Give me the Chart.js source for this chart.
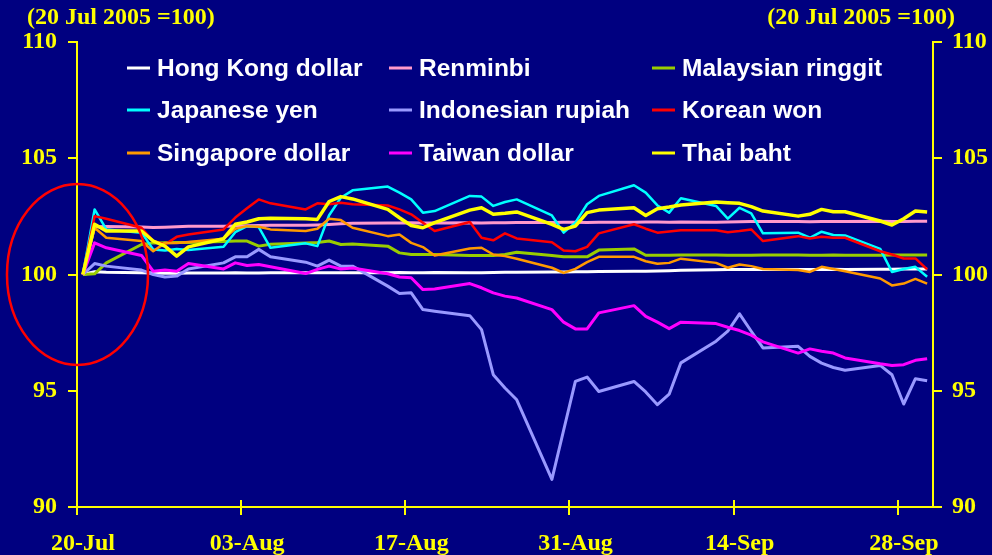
<!DOCTYPE html>
<html><head><meta charset="utf-8">
<script src="https://cdn.jsdelivr.net/npm/chart.js@4/dist/chart.umd.min.js"></script>
<style>html,body{margin:0;padding:0;background:#000080;overflow:hidden}</style>
</head><body>
<canvas id="c" width="992" height="555"></canvas>
<script>
const unitLabel = '(20 Jul 2005 =100)';
const dates = ['2005-07-20','2005-07-21','2005-07-22','2005-07-25','2005-07-26','2005-07-27','2005-07-28','2005-07-29',
'2005-08-01','2005-08-02','2005-08-03','2005-08-04','2005-08-05','2005-08-08','2005-08-09','2005-08-10','2005-08-11','2005-08-12','2005-08-15','2005-08-16','2005-08-17','2005-08-18','2005-08-19','2005-08-22','2005-08-23','2005-08-24','2005-08-25','2005-08-26','2005-08-29','2005-08-30','2005-08-31',
'2005-09-01','2005-09-02','2005-09-05','2005-09-06','2005-09-07','2005-09-08','2005-09-09','2005-09-12','2005-09-13','2005-09-14','2005-09-15','2005-09-16','2005-09-19','2005-09-20','2005-09-21','2005-09-22','2005-09-23','2005-09-26','2005-09-27','2005-09-28','2005-09-29','2005-09-30'];
const xTickDates = ['2005-07-20','2005-08-03','2005-08-17','2005-08-31','2005-09-14','2005-09-28'];
const xTickLabels = ['20-Jul','03-Aug','17-Aug','31-Aug','14-Sep','28-Sep'];
const yTicks = [90, 95, 100, 105, 110];

const seriesNames = ['Hong Kong dollar','Renminbi','Malaysian ringgit','Japanese yen','Indonesian rupiah','Korean won','Singapore dollar','Taiwan dollar','Thai baht'];
const seriesColors = ['#FFFFFF','#FF99CC','#99CC00','#00FFFF','#9999FF','#FF0000','#FF9900','#FF00FF','#FFFF00'];

const hkd = [100,100.12,100.10,100.08,100.06,100.05,100.05,100.06,
100.06,100.07,100.06,100.06,100.07,100.08,100.07,100.07,100.08,100.08,100.08,100.09,100.08,100.08,100.09,100.08,100.08,100.09,100.10,100.10,100.11,100.11,100.12,
100.12,100.13,100.14,100.14,100.15,100.16,100.18,100.20,100.21,100.22,100.22,100.22,100.21,100.22,100.22,100.23,100.22,100.23,100.23,100.24,100.24,100.24];
const rmb = [100,102.05,102.06,102.04,102.02,102.03,102.05,102.07,
102.08,102.09,102.10,102.11,102.12,102.12,102.13,102.15,102.18,102.20,102.22,102.22,102.23,102.22,102.22,102.23,102.22,102.23,102.23,102.24,102.24,102.25,102.25,
102.24,102.25,102.25,102.26,102.26,102.25,102.26,102.25,102.26,102.27,102.28,102.28,102.28,102.27,102.28,102.28,102.28,102.29,102.28,102.28,102.29,102.29];
const myr = [100,100.03,100.50,101.29,101.36,101.37,101.38,101.38,
101.42,101.44,101.44,101.22,101.30,101.36,101.38,101.44,101.29,101.31,101.22,100.93,100.86,100.86,100.86,100.82,100.82,100.82,100.86,100.96,100.82,100.76,100.76,
100.76,101.05,101.10,100.83,100.83,100.83,100.84,100.84,100.83,100.83,100.83,100.84,100.84,100.83,100.83,100.84,100.83,100.83,100.84,100.84,100.84,100.84];
const jpy = [100,102.80,101.94,101.80,101.08,101.03,101.10,101.05,
101.19,101.82,102.08,102.04,101.15,101.34,101.22,102.55,103.30,103.62,103.78,103.52,103.23,102.66,102.73,103.38,103.35,102.95,103.12,103.23,102.54,101.80,102.23,
103.02,103.38,103.84,103.52,102.97,102.66,103.28,102.95,102.40,102.87,102.63,101.77,101.80,101.58,101.84,101.70,101.68,101.10,100.11,100.24,100.33,99.90];
const idr = [100,100.47,100.36,100.19,100.00,99.89,99.93,100.24,
100.50,100.76,100.76,101.08,100.76,100.53,100.36,100.62,100.36,100.36,99.50,99.18,99.21,98.49,98.42,98.23,97.63,95.69,95.12,94.61,91.19,93.30,95.40,
95.59,94.97,95.40,94.95,94.40,94.85,96.20,97.13,97.56,98.31,97.56,96.84,96.91,96.48,96.19,96.00,95.88,96.09,95.69,94.43,95.52,95.43];
const krw = [100,102.51,102.40,102.01,101.44,101.29,101.62,101.72,
101.94,102.45,102.85,103.23,103.06,102.80,103.06,103.02,103.09,103.02,102.97,102.80,102.59,102.23,101.87,102.26,101.58,101.47,101.77,101.55,101.39,101.03,101.00,
101.19,101.77,102.16,101.97,101.80,101.85,101.90,101.90,101.82,101.87,101.94,101.44,101.65,101.55,101.62,101.58,101.58,101.00,100.86,100.69,100.69,100.22];
const sgd = [100,102.01,101.58,101.44,101.00,101.36,101.36,101.40,
101.54,101.97,102.08,102.05,101.94,101.87,101.97,102.40,102.34,102.01,101.65,101.72,101.36,101.18,100.82,101.12,101.15,100.86,100.79,100.68,100.29,100.07,100.24,
100.53,100.76,100.76,100.57,100.46,100.50,100.68,100.50,100.29,100.43,100.36,100.24,100.19,100.11,100.33,100.24,100.14,99.83,99.53,99.61,99.81,99.61];
const twd = [100,101.36,101.15,100.82,100.14,100.19,100.14,100.47,
100.24,100.50,100.39,100.43,100.33,100.04,100.22,100.36,100.24,100.28,100.03,99.89,99.86,99.35,99.38,99.61,99.43,99.21,99.07,98.99,98.49,97.95,97.66,
97.66,98.35,98.66,98.20,97.95,97.67,97.95,97.89,97.73,97.59,97.39,97.10,96.62,96.80,96.70,96.62,96.41,96.16,96.09,96.12,96.31,96.38];
const thb = [100,102.16,101.87,101.87,101.44,101.22,100.79,101.19,
101.54,102.16,102.26,102.40,102.42,102.40,102.37,103.14,103.35,103.25,102.80,102.44,102.11,102.01,102.23,102.77,102.87,102.59,102.63,102.69,102.16,101.94,102.08,
102.66,102.77,102.87,102.54,102.83,102.90,102.99,103.12,103.09,103.06,102.92,102.73,102.51,102.59,102.80,102.70,102.70,102.30,102.13,102.40,102.73,102.69];

const seriesValues = [hkd, rmb, myr, jpy, idr, krw, sgd, twd, thb];
const lineWidths = [3, 3, 3, 2.5, 3, 2.5, 2.5, 3, 3.5];

const DAY = 86400000;
const t0 = Date.parse(dates[0]);
const dayOf = d => Math.round((Date.parse(d) - t0) / DAY);
const xDays = dates.map(dayOf);
const xTickVals = xTickDates.map(d => dayOf(d) - 0.5);

const datasets = seriesNames.map((name, i) => ({
  label: name,
  data: seriesValues[i].map((v, k) => ({x: xDays[k], y: v})),
  borderColor: seriesColors[i],
  backgroundColor: seriesColors[i],
  borderWidth: lineWidths[i],
  pointRadius: 0,
  tension: 0,
  fill: false,
  borderJoinStyle: 'round',
  order: seriesNames.length - i,
  yAxisID: 'y'
}));

const serifFont = {family: '"Liberation Serif", "Times New Roman", serif', size: 24, weight: 'bold'};

const deco = {
  id: 'deco',
  beforeDraw(chart) {
    const c = chart.ctx;
    c.save(); c.fillStyle = '#000080'; c.fillRect(0, 0, chart.width, chart.height); c.restore();
  },
  afterDraw(chart) {
    const c = chart.ctx, xs = chart.scales.x, ys = chart.scales.y;
    c.save();
    // inward part of x tick marks
    c.strokeStyle = '#FFFF00'; c.lineWidth = 2;
    xs.ticks.forEach(t => {
      const px = Math.round(xs.getPixelForValue(t.value));
      c.beginPath(); c.moveTo(px, xs.top - 7); c.lineTo(px, xs.top); c.stroke();
    });
    // unit headers
    c.fillStyle = '#FFFF00';
    c.font = 'bold 24px "Liberation Serif"';
    c.textBaseline = 'middle';
    c.textAlign = 'left'; c.fillText(unitLabel, 27, 18);
    c.textAlign = 'right'; c.fillText(unitLabel, 955, 18);
    // legend (3 columns)
    const colLine = [127, 389, 652], colText = [157, 419, 682], rowY = [68, 110, 153];
    c.font = 'bold 24.5px "Liberation Sans"';
    c.textAlign = 'left';
    chart.data.datasets.forEach((ds, i) => {
      const col = i % 3, row = Math.floor(i / 3);
      const y = rowY[row];
      c.strokeStyle = ds.borderColor; c.lineWidth = 3;
      c.beginPath(); c.moveTo(colLine[col], y); c.lineTo(colLine[col] + 23, y); c.stroke();
      c.fillStyle = '#FFFFFF';
      c.fillText(ds.label, colText[col], y + 1);
    });
    // red ellipse annotation
    c.strokeStyle = '#FF0000'; c.lineWidth = 2.5;
    c.beginPath();
    c.ellipse(xs.left + 0.5, ys.getPixelForValue(100), 70.5, 90.5, 0, 0, Math.PI * 2);
    c.stroke();
    c.restore();
  }
};

new Chart(document.getElementById('c'), {
  type: 'line',
  data: {datasets},
  options: {
    responsive: false,
    animation: false,
    devicePixelRatio: 1,
    layout: {padding: {top: 42, left: 0, right: 0, bottom: 0}},
    plugins: {legend: {display: false}, tooltip: {enabled: false}},
    scales: {
      x: {
        type: 'linear',
        min: -0.5, max: xDays[xDays.length - 1] + 0.5,
        afterBuildTicks: s => { s.ticks = xTickVals.map(v => ({value: v})); },
        afterFit: s => { s.height = 48; },
        ticks: {
          autoSkip: false, maxRotation: 0, color: '#FFFF00', font: serifFont,
          padding: 14, labelOffset: 6,
          callback: v => { const k = xTickVals.indexOf(v); return k >= 0 ? xTickLabels[k] : ''; }
        },
        grid: {drawOnChartArea: false, drawTicks: true, tickLength: 8, color: '#FFFF00', lineWidth: 2},
        border: {color: '#FFFF00', width: 2}
      },
      y: {
        position: 'left', min: 90, max: 110,
        afterBuildTicks: s => { s.ticks = yTicks.map(v => ({value: v})); },
        afterFit: s => { s.width = 77; },
        ticks: {color: '#FFFF00', font: serifFont, padding: 11},
        grid: {drawOnChartArea: false, drawTicks: true, tickLength: 9, color: '#FFFF00', lineWidth: 2},
        border: {color: '#FFFF00', width: 2}
      },
      y2: {
        position: 'right', min: 90, max: 110,
        afterBuildTicks: s => { s.ticks = yTicks.map(v => ({value: v})); },
        afterFit: s => { s.width = 59; },
        ticks: {color: '#FFFF00', font: serifFont, padding: 10},
        grid: {drawOnChartArea: false, drawTicks: true, tickLength: 9, color: '#FFFF00', lineWidth: 2},
        border: {color: '#FFFF00', width: 2}
      }
    }
  },
  plugins: [deco]
});
</script>
</body></html>
